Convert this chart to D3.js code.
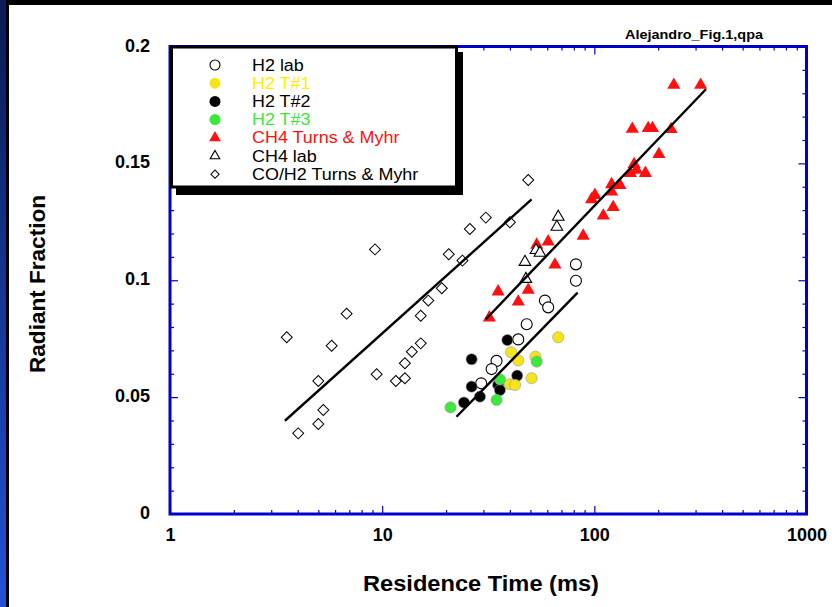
<!DOCTYPE html>
<html>
<head>
<meta charset="utf-8">
<script src="https://cdn.jsdelivr.net/npm/d3@7.9.0/dist/d3.min.js"></script>
<style>
  html, body { margin: 0; padding: 0; background: #000; }
  svg { display: block; font-family: "Liberation Sans", Arial, sans-serif; }
</style>
</head>
<body>
<svg id="chart" width="832" height="607"></svg>
<script>
// residence time (ms), radiant fraction
const h2Lab = [[81.9, 0.1068], [81.9, 0.0998], [58.5, 0.0913], [60.6, 0.0884], [48.0, 0.0812],
  [43.8, 0.0747], [34.6, 0.0655], [32.8, 0.0620], [29.3, 0.0559]];
const h2T1 = [[67.6, 0.0756], [40.5, 0.0692], [43.8, 0.0657], [52.8, 0.0673], [50.6, 0.0581],
  [40.0, 0.0555], [42.3, 0.0552]];
const h2T2 = [[38.9, 0.0744], [26.4, 0.0662], [43.3, 0.0592], [26.4, 0.0545], [35.2, 0.0552],
  [35.9, 0.0530], [28.9, 0.0502], [24.3, 0.0477]];
const h2T3 = [[53.5, 0.0652], [35.9, 0.0576], [34.6, 0.0488], [21.0, 0.0456]];
const ch4Turns = [[237, 0.1835], [317, 0.1835], [151, 0.1647], [179.5, 0.1650], [188, 0.1650],
  [230, 0.1646], [201.6, 0.1539], [154, 0.1496], [148, 0.1458], [158, 0.1472], [174, 0.1458],
  [120.6, 0.1410], [132, 0.1407], [120.6, 0.1379], [100.6, 0.1364], [97.1, 0.1346],
  [122.7, 0.1312], [110.2, 0.1276], [88.6, 0.1190], [60.6, 0.1165], [53.5, 0.1151],
  [54.4, 0.1129], [65.2, 0.1066], [35.2, 0.0951], [48.8, 0.0958], [43.8, 0.0908], [32.0, 0.0840]];
const ch4Lab = [[67.6, 0.1271], [66.6, 0.1228], [53.1, 0.1129], [55.4, 0.1117], [47.1, 0.1078],
  [47.6, 0.1005]];
const coH2Turns = [[48.8, 0.1429], [30.8, 0.1268], [25.9, 0.1219], [40.0, 0.1248], [9.25, 0.1132],
  [20.6, 0.1111], [23.9, 0.1084], [19.1, 0.0966], [16.5, 0.0913], [15.2, 0.0848], [6.80, 0.0857],
  [3.55, 0.0756], [5.78, 0.0720], [15.2, 0.0730], [13.8, 0.0694], [12.8, 0.0645], [9.42, 0.0598],
  [12.8, 0.0581], [11.6, 0.0569], [5.00, 0.0569], [5.28, 0.0445], [5.00, 0.0385], [4.02, 0.0345]];

// fitted lines, end points
const coFit = [[3.48, 0.0399], [50.6, 0.1346]];
const ch4Fit = [[30.8, 0.0833], [335.7, 0.1817]];
const h2Fit = [[22.4, 0.0416], [83.4, 0.0947]];

const xMajor = [1, 10, 100, 1000];
const xMinor = [2, 3, 4, 5, 6, 7, 8, 9, 20, 30, 40, 50, 60, 70, 80, 90, 200, 300, 400, 500, 600, 700, 800, 900];
const yMajor = [0, 0.05, 0.1, 0.15, 0.2];
const yMinor = [0.01, 0.02, 0.03, 0.04, 0.06, 0.07, 0.08, 0.09, 0.11, 0.12, 0.13, 0.14, 0.16, 0.17, 0.18, 0.19];

const legendLabels = ["H2 lab", "H2 T#1", "H2 T#2", "H2 T#3", "CH4 Turns & Myhr", "CH4 lab", "CO/H2 Turns & Myhr"];

const blue = "#0000cc";
const yellow = "#f5e41c";
const green = "#3be83b";
const red = "#ff1010";

const svg = d3.select("#chart");

// page background: dark frame with blue strip on the left
let defs = svg.append("defs");
let grad = defs.append("linearGradient").attr("id", "strip").attr("x1", 0).attr("y1", 0).attr("x2", 0).attr("y2", 1);
grad.append("stop").attr("offset", "0%").attr("stop-color", "#0a1a55");
grad.append("stop").attr("offset", "100%").attr("stop-color", "#2352d6");
svg.append("rect").attr("width", 832).attr("height", 607).attr("fill", "#000");
svg.append("rect").attr("width", 6).attr("height", 607).attr("fill", "url(#strip)");
svg.append("rect").attr("x", 9).attr("y", 5).attr("width", 823).attr("height", 602).attr("fill", "#fff");

const pLeft = 170, pRight = 806.5, pTop = 46.5, pBottom = 514;
const x = d3.scaleLog().domain([1, 1000]).range([pLeft, pRight]);
const y = d3.scaleLinear().domain([0, 0.2]).range([pBottom, pTop]);

// ticks on all four sides, pointing inward
function ticks(axis, tx, ty) {
  let g = svg.append("g").attr("transform", `translate(${tx},${ty})`).call(axis);
  g.select(".domain").remove();
  g.selectAll("line").attr("stroke", blue).attr("stroke-width", 1.2);
  return g;
}
ticks(d3.axisBottom(x).tickValues(xMinor).tickSize(-4).tickFormat(""), 0, pBottom);
ticks(d3.axisTop(x).tickValues(xMinor).tickSize(-4).tickFormat(""), 0, pTop);
ticks(d3.axisLeft(y).tickValues(yMinor).tickSize(-4).tickFormat(""), pLeft, 0);
ticks(d3.axisRight(y).tickValues(yMinor).tickSize(-4).tickFormat(""), pRight, 0);
let xAx = ticks(d3.axisBottom(x).tickValues(xMajor).tickSize(-8).tickPadding(14).tickFormat(d => String(d)), 0, pBottom);
ticks(d3.axisTop(x).tickValues(xMajor).tickSize(-8).tickFormat(""), 0, pTop);
let yAx = ticks(d3.axisLeft(y).tickValues(yMajor).tickSize(-8).tickPadding(20).tickFormat(d => String(d)), pLeft, 0);
ticks(d3.axisRight(y).tickValues(yMajor).tickSize(-8).tickFormat(""), pRight, 0);

xAx.selectAll("text").attr("font-size", 18).attr("font-weight", "bold").attr("fill", "#000")
  .attr("font-family", "'Liberation Sans', Arial, sans-serif");
yAx.selectAll("text").attr("font-size", 18).attr("font-weight", "bold").attr("fill", "#000")
  .attr("font-family", "'Liberation Sans', Arial, sans-serif").attr("dy", "0.25em");

svg.append("rect").attr("x", pLeft).attr("y", pTop).attr("width", pRight - pLeft).attr("height", pBottom - pTop)
  .attr("fill", "none").attr("stroke", blue).attr("stroke-width", 3);

// markers
const tri = d3.symbol(d3.symbolTriangle, 75)();
const triSmall = d3.symbol(d3.symbolTriangle, 58)();
const dia = d3.symbol(d3.symbolSquare, 60)();

function pts(data, draw) {
  data.forEach(d => draw(svg.append("g").attr("transform", `translate(${x(d[0])},${y(d[1])})`)));
}
const drawDia = g => g.append("path").attr("d", dia).attr("transform", "rotate(45)")
  .attr("fill", "#fff").attr("stroke", "#000").attr("stroke-width", 1);
const drawRedTri = g => g.append("path").attr("d", tri).attr("fill", red);
const drawOpenTri = g => g.append("path").attr("d", triSmall).attr("fill", "#fff").attr("stroke", "#000").attr("stroke-width", 1.1);
const drawOpenCirc = g => g.append("circle").attr("r", 5.5).attr("fill", "#fff").attr("stroke", "#000").attr("stroke-width", 1.1);
const filled = c => g => g.append("circle").attr("r", 5.6).attr("fill", c).attr("stroke", "#999").attr("stroke-width", 0.6);

pts(coH2Turns, drawDia);
pts(ch4Turns, drawRedTri);
pts(ch4Lab, drawOpenTri);
pts(h2Lab, drawOpenCirc);
pts(h2T2, filled("#000"));
pts(h2T1, filled(yellow));
pts(h2T3, filled(green));

// fit lines
let line = d3.line().x(d => x(d[0])).y(d => y(d[1]));
[coFit, ch4Fit, h2Fit].forEach(f => {
  svg.append("path").attr("d", line(f)).attr("fill", "none").attr("stroke", "#000").attr("stroke-width", 2.4);
});

// legend box with shadow
let lg = svg.append("g");
lg.append("rect").attr("x", 176).attr("y", 52).attr("width", 287).attr("height", 143).attr("fill", "#000");
lg.append("rect").attr("x", 171.5).attr("y", 47).attr("width", 285).attr("height", 140)
  .attr("fill", "#fff").attr("stroke", "#000").attr("stroke-width", 3);

const legendDraw = [
  g => g.append("circle").attr("r", 5).attr("fill", "#fff").attr("stroke", "#000").attr("stroke-width", 1.1),
  g => g.append("circle").attr("r", 5.5).attr("fill", yellow),
  g => g.append("circle").attr("r", 5.5).attr("fill", "#000"),
  g => g.append("circle").attr("r", 5.5).attr("fill", green),
  g => g.append("path").attr("d", d3.symbol(d3.symbolTriangle, 60)()).attr("fill", red),
  g => g.append("path").attr("d", d3.symbol(d3.symbolTriangle, 40)()).attr("fill", "#fff").attr("stroke", "#000").attr("stroke-width", 1.1),
  g => g.append("path").attr("d", d3.symbol(d3.symbolSquare, 34)()).attr("transform", "rotate(45)").attr("fill", "#fff").attr("stroke", "#000").attr("stroke-width", 1)
];
const legendColors = ["#000", "#ffee00", "#000", green, red, "#000", "#000"];

legendLabels.forEach((lab, i) => {
  let cy = 65 + i * 18.2;
  legendDraw[i](lg.append("g").attr("transform", `translate(215,${cy})`));
  let t = lg.append("text").attr("x", 252).attr("y", cy + 5.5).attr("font-size", 16)
    .attr("fill", legendColors[i]).text(lab);
  // the original lettering is a bit wider than Liberation Sans at this size
  let w = t.node().getComputedTextLength();
  t.attr("textLength", w * 1.12).attr("lengthAdjust", "spacingAndGlyphs");
});

// titles
svg.append("text").attr("x", 694).attr("y", 39).attr("text-anchor", "middle")
  .attr("font-size", 13).attr("font-weight", "bold").attr("textLength", 138).attr("lengthAdjust", "spacingAndGlyphs")
  .text("Alejandro_Fig.1,qpa");
svg.append("text").attr("x", 481).attr("y", 591).attr("text-anchor", "middle")
  .attr("font-size", 22).attr("font-weight", "bold").attr("textLength", 236).attr("lengthAdjust", "spacingAndGlyphs")
  .text("Residence Time (ms)");
svg.append("text").attr("transform", "translate(45,284) rotate(-90)").attr("text-anchor", "middle")
  .attr("font-size", 22).attr("font-weight", "bold").attr("textLength", 178).attr("lengthAdjust", "spacingAndGlyphs")
  .text("Radiant Fraction");
</script>
</body>
</html>
